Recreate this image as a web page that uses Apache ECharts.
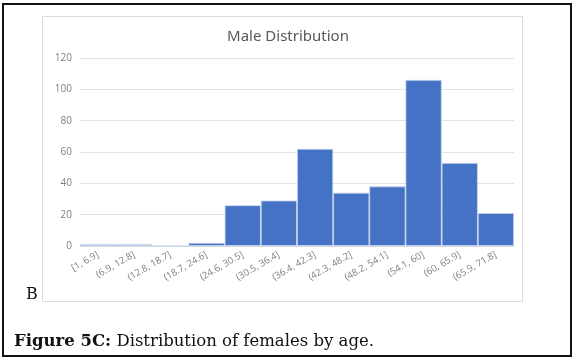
<!DOCTYPE html>
<html>
<head>
<meta charset="utf-8">
<script src="https://cdn.jsdelivr.net/npm/echarts@6/dist/echarts.min.js"></script>
<style>
  html, body { margin: 0; padding: 0; background: #fff; }
  #chart { width: 574px; height: 361px; }
</style>
</head>
<body>
<div id="chart"></div>
<script>
// age bins (x axis)
var categories = ["[1, 6.9]", "(6.9, 12.8]", "(12.8, 18.7]", "(18.7, 24.6]", "(24.6, 30.5]", "(30.5, 36.4]",
  "(36.4, 42.3]", "(42.3, 48.2]", "(48.2, 54.1]", "(54.1, 60]", "(60, 65.9]", "(65.9, 71.8]"];
// counts per bin
var counts = [1, 1, 0, 2, 26, 29, 62, 34, 38, 106, 53, 21];
var chartTitle = "Male Distribution";
var panelLabel = "B";
var captionBold = "Figure 5C:";
var captionText = " Distribution of females by age.";

var myChart = echarts.init(document.getElementById("chart"));
var option = {
  animation: false,
  title: {
    text: chartTitle,
    left: 283,
    textAlign: "center",
    top: 24,
    textStyle: {
      color: "#595959",
      fontSize: 15,
      fontWeight: "normal",
      fontFamily: "Noto Sans",
    },
  },
  grid: {
    left: 80,
    right: 60,
    top: 58,
    bottom: 115,
  },
  xAxis: {
    type: "category",
    data: categories,
    axisTick: { show: false },
    axisLine: { lineStyle: { color: "#d9d9d9" } },
    axisLabel: {
      rotate: 30,
      interval: 0,
      margin: 8,
      color: "#7f7f7f",
      fontSize: 9.5,
      fontFamily: "Open Sans",
    },
  },
  yAxis: {
    type: "value",
    min: 0,
    max: 120,
    interval: 20,
    axisLine: { show: false },
    axisTick: { show: false },
    axisLabel: {
      margin: 8,
      color: "#7f7f7f",
      fontSize: 10,
      fontFamily: "Open Sans",
    },
    splitLine: { lineStyle: { color: "#e3e3e3" } },
  },
  series: [
    {
      type: "bar",
      data: counts,
      barWidth: "100%",
      itemStyle: {
        color: "#4472c4",
        borderColor: "#c8d5ee",
        borderWidth: 0.8,
      },
    },
  ],
  graphic: [
    // outer frame
    {
      type: "rect",
      shape: { x: 3, y: 4, width: 568, height: 352 },
      style: { fill: "none", stroke: "#111", lineWidth: 2 },
    },
    // chart area box
    {
      type: "rect",
      shape: { x: 42.5, y: 16.5, width: 480, height: 285 },
      style: { fill: "none", stroke: "#dcdcdc", lineWidth: 1 },
    },
    {
      type: "text",
      left: 26,
      top: 287,
      style: { text: panelLabel, fill: "#111", font: "16px 'DejaVu Serif'" },
    },
    {
      type: "text",
      left: 14,
      top: 333,
      style: {
        text: "{b|" + captionBold + "}{n|" + captionText + "}",
        rich: {
          b: { fill: "#111", font: "bold 16.5px 'DejaVu Serif'" },
          n: { fill: "#111", font: "16.5px 'DejaVu Serif'" },
        },
      },
    },
  ],
};
myChart.setOption(option, true);
</script>
</body>
</html>
